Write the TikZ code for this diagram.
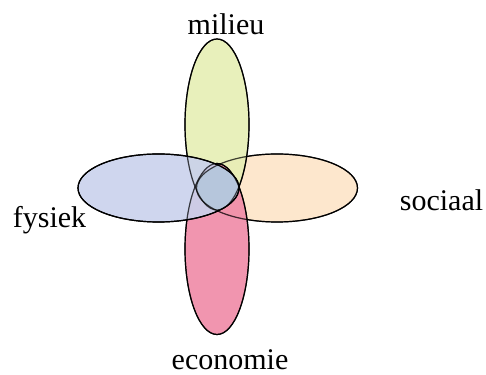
\documentclass[tikz,border=0pt]{standalone}
\usepackage{fontspec}
\setmainfont{Liberation Serif}
\usetikzlibrary{shapes.geometric}
\definecolor{milieuCol}{HTML}{E6EEB4}
\definecolor{fysiekCol}{HTML}{CAD2EC}
\definecolor{sociaalCol}{HTML}{FDE4C8}
\definecolor{economieCol}{HTML}{F08AA6}
\definecolor{kernCol}{HTML}{B4C6DC}
\begin{document}
\begin{tikzpicture}[x=1pt, y=1pt,
    blob/.style={ellipse, draw=black, line width=1.2pt, inner sep=0pt, fill opacity=0.9},
    vblob/.style={blob, minimum width=64pt, minimum height=171pt},
    hblob/.style={blob, minimum width=161pt, minimum height=68pt},
    lbl/.style={anchor=base, inner sep=0pt, font=\fontsize{30}{35}\selectfont}]
  \useasboundingbox (0,0) rectangle (486,374);

  % de vier ellipsen
  \node[hblob, fill=sociaalCol] (sociaal) at (277,186) {};
  \node[vblob, fill=milieuCol] (milieu) at (217,249.5) {};
  \node[vblob, fill=economieCol] (economie) at (217,125) {};
  \node[hblob, fill=fysiekCol] (fysiek) at (158.5,186) {};

  % overlap van alle vier
  \begin{scope}
    \clip (milieu.center) ellipse [x radius=32, y radius=85.5];
    \clip (economie.center) ellipse [x radius=32, y radius=85.5];
    \clip (fysiek.center) ellipse [x radius=80.5, y radius=34];
    \fill[kernCol, fill opacity=0.9] (sociaal.center) ellipse [x radius=80.5, y radius=34];
  \end{scope}
  \draw[line width=1.2pt, draw opacity=0.7] (milieu.center) ellipse [x radius=32, y radius=85.5];
  \draw[line width=1.2pt, draw opacity=0.7] (economie.center) ellipse [x radius=32, y radius=85.5];
  \draw[line width=1.2pt, draw opacity=0.7] (sociaal.center) ellipse [x radius=80.5, y radius=34];
  \draw[line width=1.2pt] (fysiek.center) ellipse [x radius=80.5, y radius=34];

  % labels
  \node[lbl] (lblMilieu) at (226,339) {milieu};
  \node[lbl] (lblFysiek) at (49.5,146) {fysiek};
  \node[lbl] (lblSociaal) at (441.5,163) {sociaal};
  \node[lbl] (lblEconomie) at (230,5) {economie};
\end{tikzpicture}
\end{document}
